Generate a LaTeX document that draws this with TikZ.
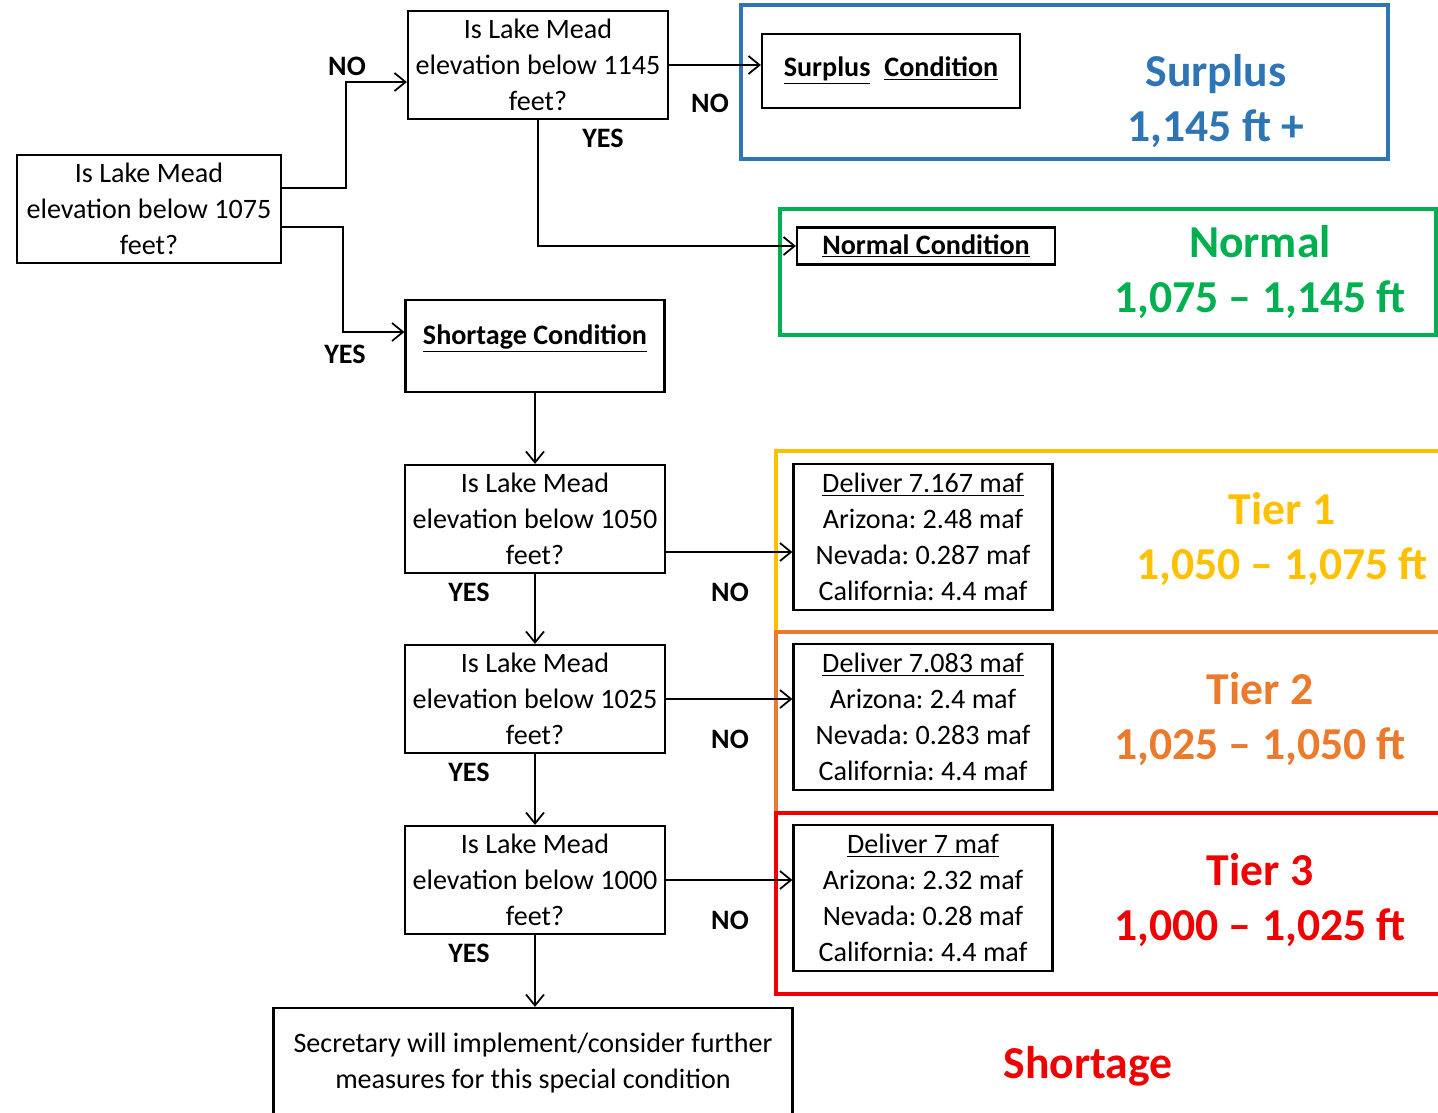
\documentclass[tikz,border=0pt]{standalone}
\usepackage{fontspec}
\setmainfont{Carlito}
\usetikzlibrary{arrows.meta}
\definecolor{surplusblue}{RGB}{46,117,182}
\definecolor{normalgreen}{RGB}{0,176,80}
\definecolor{tierone}{RGB}{255,192,0}
\definecolor{tiertwo}{RGB}{235,122,45}
\definecolor{tierthree}{RGB}{240,0,0}
\frenchspacing
\begin{document}
\begin{tikzpicture}[x=0.02cm,y=-0.02cm,
    qbox/.style={draw,line width=1.3pt,align=center,minimum width=5.2cm,minimum height=2.16cm,inner sep=0pt,font=\fontsize{16}{20.5}\selectfont},
    cbox/.style={draw,line width=1.3pt,align=center,inner sep=2pt,font=\fontsize{16}{20.5}\selectfont},
    dbox/.style={draw,line width=1.3pt,align=center,minimum width=5.18cm,minimum height=2.92cm,inner sep=0pt,font=\fontsize{16}{20.5}\selectfont},
    lab/.style={font=\fontsize{16}{19}\selectfont\bfseries},
    big/.style={align=center,font=\fontsize{26}{31}\selectfont\bfseries},
    frame/.style={line width=2.4pt},
    arr/.style={-{Straight Barb[length=2.2mm,width=3.6mm]},line width=1pt}]
\useasboundingbox (0,0) rectangle (1438,1113);
\draw[frame,draw=surplusblue] (741,5) rectangle (1388,159);
\draw[frame,draw=normalgreen] (780,209) rectangle (1436,335);
\node (q1075) at (149,209)[qbox,minimum width=5.28cm]{Is Lake Mead\\elevation below 1075\\feet?};
\node (q1145) at (538,65)[qbox]{Is Lake Mead\\elevation below 1145\\feet?};
\node (surplus) at (891,71)[cbox,minimum width=5.16cm,minimum height=1.48cm]{\textbf{\underline{Surplus}\enspace\underline{Condition}}};
\node (normal) at (926,246)[cbox,minimum width=5.16cm,minimum height=0.74cm]{\textbf{\underline{Normal Condition}}};
\node (short) at (535,346)[cbox,minimum width=5.18cm,text height=0.81cm,text depth=0.89cm]{\textbf{\underline{Shortage Condition}}};
\node (surpluslab) at (1216,101)[big,text=surplusblue]{Surplus\\1,145 ft +};
\node (normallab) at (1260,272)[big,text=normalgreen]{Normal\\1,075 -- 1,145 ft};
\node (no1075) at (347,66)[lab]{NO};
\node (yes1075) at (345,354)[lab]{YES};
\node (no1145) at (710,103)[lab]{NO};
\node (yes1145) at (603,138)[lab]{YES};
\draw[arr] ([yshift=0.42cm]q1075.east) -- ++(1.28cm,0) |- ([yshift=-0.34cm]q1145.west);
\draw[arr] ([yshift=-0.36cm]q1075.east) -- ++(1.22cm,0) |- ([yshift=0.28cm]short.west);
\draw[arr] (q1145.east) -- (q1145.east -| surplus.west);
\draw[arr] (q1145.south) |- (normal.west);
\foreach \i/\lev/\qy/\ay/\col/\tx/\amt/\az/\nv/\rng in {
    1/1050/519/552/tierone/1282/7.167/2.48/0.287/{1,050 -- 1,075 ft},
    2/1025/699/699/tiertwo/1260/7.083/2.4/0.283/{1,025 -- 1,050 ft},
    3/1000/880/880/tierthree/1260/7/2.32/0.28/{1,000 -- 1,025 ft}}
{
    \pgfmathparse{int(451+181*(\i-1))};
    \edef\ft{\pgfmathresult};
    \pgfmathsetmacro\sh{(\qy-\ay)*0.02};
    \draw[frame,draw=\col] (776,\ft) rectangle (1445,\ft+181);
    \node (q\i) at (535,\qy)[qbox]{Is Lake Mead\\elevation below \lev\\feet?};
    \node (d\i) at (923,\qy+18)[dbox]{\underline{Deliver \amt\ maf}\\Arizona: \az\ maf\\Nevada: \nv\ maf\\California: 4.4 maf};
    \node (t\i) at (\tx,\qy+20)[big,text=\col]{Tier \i\\\rng};
    \node (no\i) at (730,\ay+40)[lab]{NO};
    \node (yes\i) at (469,\qy+73)[lab]{YES};
    \draw[arr] ([yshift=\sh cm]q\i.east) -- ([yshift=\sh cm]q\i.east -| d\i.west);
}
\node (sec) at (533,1063)[cbox,minimum width=10.38cm,minimum height=2.2cm]{Secretary will implement/consider further\\measures for this special condition};
\node (shortlab) at (1088,1066)[big,text=tierthree]{Shortage};
\draw[arr] (short.south) -- (q1.north);
\draw[arr] (q1.south) -- (q2.north);
\draw[arr] (q2.south) -- (q3.north);
\draw[arr] (q3.south) -- (q3.south |- sec.north);
\end{tikzpicture}
\end{document}
